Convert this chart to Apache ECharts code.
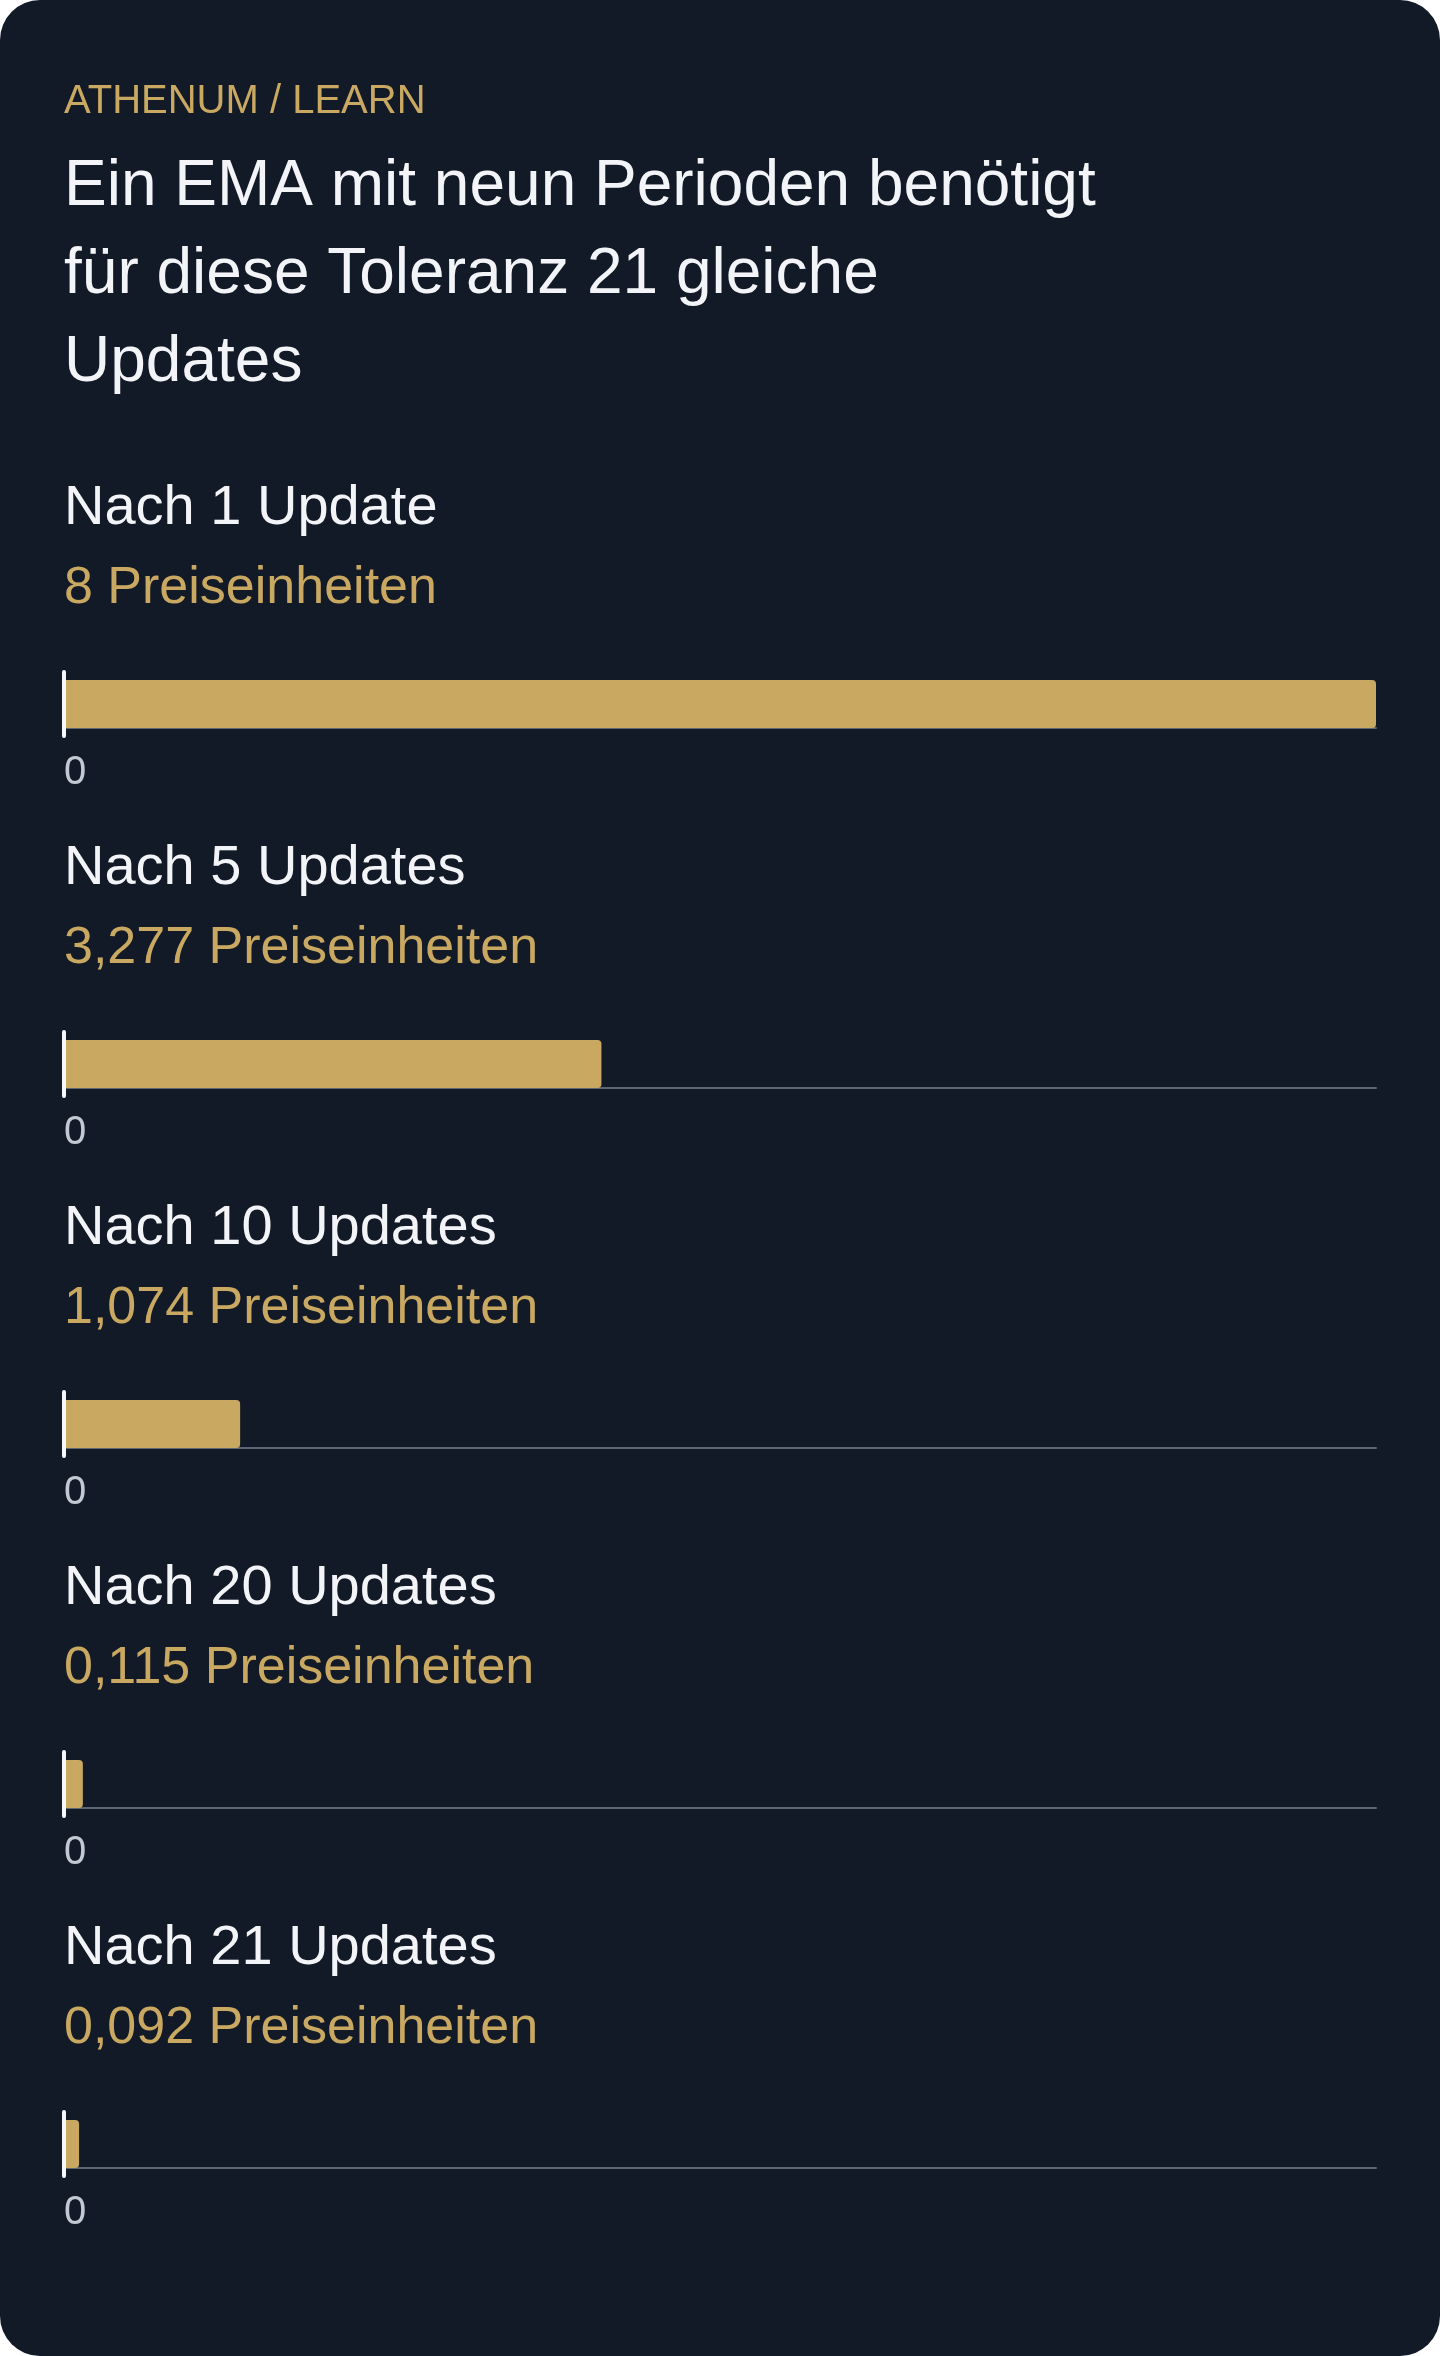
<!DOCTYPE html>
<html>
<head>
<meta charset="utf-8">
<script src="https://cdn.jsdelivr.net/npm/echarts@6/dist/echarts.min.js"></script>
<style>
  html, body { margin: 0; padding: 0; background: #ffffff; }
  #card { position: absolute; left: 0; top: 0; width: 1440px; height: 2356px; border-radius: 40px; background: #131a27; overflow: hidden; }
  #chart { width: 1440px; height: 2356px; }
</style>
</head>
<body>
<div id="card"><div id="chart"></div></div>
<script>
// ---- data ----
const eyebrow = 'ATHENUM / LEARN';
const titleLines = ['Ein EMA mit neun Perioden benötigt', 'für diese Toleranz 21 gleiche', 'Updates'];
const categories = ['Nach 1 Update', 'Nach 5 Updates', 'Nach 10 Updates', 'Nach 20 Updates', 'Nach 21 Updates'];
const values = [8, 3.277, 1.074, 0.115, 0.092];
const unit = 'Preiseinheiten';
const axisMin = 0;
const axisMax = 8;
const tickLabels = ['0'];

// ---- styling / layout ----
const GOLD = '#c9a862';
const WHITE = '#f2f4f8';
const FONT = '"Liberation Sans", Arial, Helvetica, sans-serif';
const LEFT = 64, RIGHT = 64;
const PITCH = 360;
const GRID_TOP0 = 672, GRID_H = 64;

const chart = echarts.init(document.getElementById('chart'), null, { renderer: 'canvas' });

const grids = [], xAxes = [], yAxes = [], series = [], graphics = [];

graphics.push({
  type: 'text', left: LEFT, top: 82,
  style: { text: eyebrow, font: '40px ' + FONT, fill: GOLD }
});
graphics.push({
  type: 'text', left: LEFT, top: 143,
  style: { text: titleLines.join('\n'), font: '64px ' + FONT, fill: WHITE, lineHeight: 88 }
});

categories.forEach((cat, i) => {
  const off = i * PITCH;
  graphics.push({
    type: 'text', left: LEFT, top: 481 + off,
    style: { text: cat, font: '56px ' + FONT, fill: WHITE }
  });
  graphics.push({
    type: 'text', left: LEFT, top: 563 + off,
    style: { text: String(values[i]).replace('.', ',') + ' ' + unit, font: '52px ' + FONT, fill: GOLD }
  });
  grids.push({ left: LEFT, right: RIGHT, top: GRID_TOP0 + off, height: GRID_H, containLabel: false });
  xAxes.push({
    type: 'value', gridIndex: i, min: axisMin, max: axisMax, interval: axisMax - axisMin,
    offset: -8,
    axisLine: { show: true, lineStyle: { color: '#5b6574', width: 2 } },
    axisTick: { show: false },
    splitLine: { show: false },
    axisLabel: {
      show: true, margin: 25, fontSize: 40, color: '#c3c9d2', align: 'left',
      formatter: v => tickLabels.includes(String(v)) ? String(v) : ''
    }
  });
  yAxes.push({
    type: 'category', gridIndex: i, data: [cat], z: 5,
    axisLine: { show: true, lineStyle: { color: '#f5f6f8', width: 4 } },
    axisTick: { show: false },
    axisLabel: { show: false },
    splitLine: { show: false }
  });
  series.push({
    type: 'bar', xAxisIndex: i, yAxisIndex: i, data: [values[i]],
    barWidth: 48,
    itemStyle: { color: GOLD, borderRadius: [0, 4, 4, 0] },
    silent: true, animation: false
  });
});

chart.setOption({
  backgroundColor: 'transparent',
  animation: false,
  grid: grids, xAxis: xAxes, yAxis: yAxes, series: series,
  graphic: graphics
});
</script>
</body>
</html>
